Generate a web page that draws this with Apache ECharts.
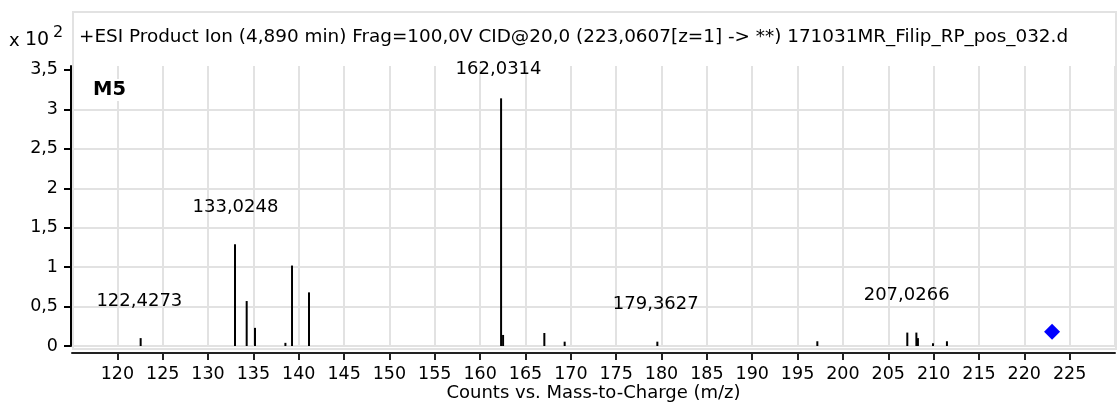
<!DOCTYPE html>
<html>
<head>
<meta charset="utf-8">
<style>
html,body{margin:0;padding:0;background:#fff;}
#chart{width:1117px;height:411px;}
</style>
<script src="https://cdn.jsdelivr.net/npm/echarts@6/dist/echarts.min.js"></script>
</head>
<body>
<div id="chart"></div>
<script>
// m/z of each drawn peak (x10^2 counts)
var peakMz = [122.57, 132.97, 134.26, 135.18, 138.53, 139.26, 141.13, 162.31, 162.53, 167.08, 169.32, 179.54, 197.18, 207.10, 208.10, 208.27, 209.93, 211.47];
var peakIntensity = [0.10, 1.29, 0.57, 0.23, 0.04, 1.02, 0.68, 3.14, 0.14, 0.165, 0.055, 0.055, 0.06, 0.17, 0.17, 0.10, 0.035, 0.06];
// annotated peak labels
var labelMz = [122.4273, 133.0248, 162.0314, 179.3627, 207.0266];
var labelText = ['122,4273', '133,0248', '162,0314', '179,3627', '207,0266'];
var labelPeakIndex = [0, 1, 7, 11, 13];
// precursor ion marker
var precursorMz = [223.0607];
var precursorIntensity = [0.18];
// axes
var xMin = 115, xMax = 230, xStep = 5;
var yMin = 0, yMax = 3.55, yStep = 0.5;
var yTicks = [0, 0.5, 1, 1.5, 2, 2.5, 3, 3.5];
var titleText = '+ESI Product Ion (4,890 min) Frag=100,0V CID@20,0 (223,0607[z=1] -> **) 171031MR_Filip_RP_pos_032.d';
var xAxisTitle = 'Counts vs. Mass-to-Charge (m/z)';
var sampleName = 'M5';

var FONT = '"DejaVu Sans", Verdana, sans-serif';
var FS = 18;
var TICK_FS = 17.5;

var peakData = peakMz.map(function (m, i) { return [m, peakIntensity[i]]; });
var labelData = labelMz.map(function (m, i) {
  return {
    value: [m, peakIntensity[labelPeakIndex[i]]],
    label: { formatter: labelText[i], distance: labelPeakIndex[i] === 7 ? 20 : 28 }
  };
});
var precData = precursorMz.map(function (m, i) { return [m, precursorIntensity[i]]; });

var chart = echarts.init(document.getElementById('chart'), null, { renderer: 'canvas' });
chart.setOption({
  animation: false,
  backgroundColor: '#fff',
  grid: { left: 72, right: 2, top: 66, bottom: 65, containLabel: false },
  graphic: [
    { type: 'rect', z: -10, silent: true,
      shape: { x: 73, y: 12, width: 1043, height: 337 },
      style: { fill: 'none', stroke: '#e2e2e2', lineWidth: 2 } },
    { type: 'text', left: 79, top: 28, z: 100,
      style: { text: titleText, font: '18.4px ' + FONT, fill: '#000' } },
    { type: 'text', left: 9, top: 32, z: 100,
      style: { text: 'x', font: FS + 'px ' + FONT, fill: '#000' } },
    { type: 'text', left: 25, top: 31, z: 100,
      style: { text: '10', font: '19px ' + FONT, fill: '#000' } },
    { type: 'text', left: 53, top: 25, z: 100,
      style: { text: '2', font: '16px ' + FONT, fill: '#000' } },
    { type: 'text', left: 92, top: 79, z: 100,
      style: { text: sampleName, font: 'bold 19.5px ' + FONT, fill: '#000',
        backgroundColor: '#fff', padding: [1, 1, 1, 1] } }
  ],
  xAxis: {
    type: 'value', min: xMin, max: xMax, interval: xStep,
    offset: 7,
    name: xAxisTitle, nameLocation: 'middle', nameGap: 31, nameMoveOverlap: false,
    nameTextStyle: { fontFamily: FONT, fontSize: FS, color: '#000' },
    axisLine: { show: true, onZero: false, lineStyle: { color: '#222', width: 2 } },
    axisTick: { show: true, length: 7, lineStyle: { color: '#222', width: 2 } },
    axisLabel: { showMinLabel: false, showMaxLabel: false, margin: 12,
      fontFamily: FONT, fontSize: TICK_FS, color: '#000' },
    splitLine: { show: true, lineStyle: { color: '#e2e2e2', width: 2 } }
  },
  yAxis: {
    type: 'value', min: yMin, max: yMax, interval: yStep,
    offset: 1,
    axisLine: { show: true, lineStyle: { color: '#000', width: 2 } },
    axisTick: { show: true, length: 7, customValues: yTicks, lineStyle: { color: '#000', width: 2 } },
    axisLabel: { margin: 13, fontFamily: FONT, fontSize: TICK_FS, color: '#000', showMaxLabel: false,
      formatter: function (v) { return String(v).replace('.', ','); } },
    splitLine: { show: true, showMaxLine: false, lineStyle: { color: '#e2e2e2', width: 2 } }
  },
  series: [
    {
      type: 'custom',
      data: peakData,
      encode: { x: 0, y: 1 },
      renderItem: function (params, api) {
        var p0 = api.coord([api.value(0), 0]);
        var p1 = api.coord([api.value(0), api.value(1)]);
        return { type: 'line', shape: { x1: p0[0], y1: p0[1], x2: p1[0], y2: p1[1] },
          style: { stroke: '#000', lineWidth: 2 } };
      },
      z: 5
    },
    {
      type: 'scatter',
      data: labelData,
      symbolSize: 0,
      itemStyle: { opacity: 1 },
      label: { show: true, position: 'top', fontFamily: FONT, fontSize: FS, color: '#000' },
      z: 6
    },
    {
      type: 'scatter',
      data: precData,
      symbol: 'diamond',
      symbolSize: [16, 16],
      itemStyle: { color: '#0000ff', opacity: 1 },
      z: 7
    }
  ]
});
</script>
</body>
</html>
